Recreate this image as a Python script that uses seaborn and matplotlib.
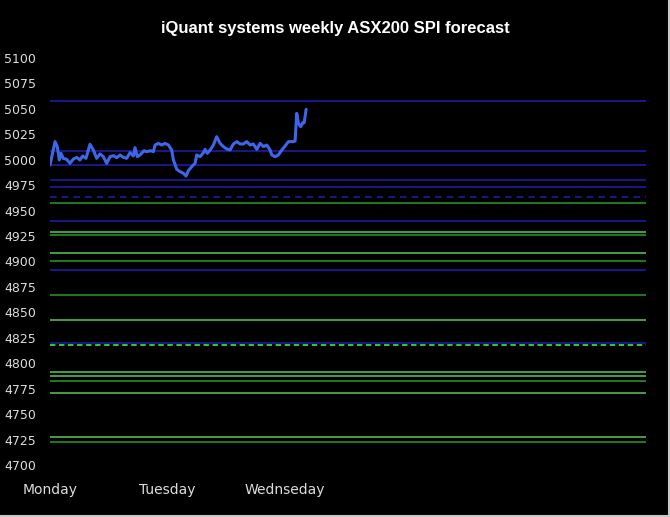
import pandas as pd
import seaborn as sns
import matplotlib.pyplot as plt
from matplotlib.lines import Line2D

# price path, x in trading days from Monday open
day_pos = [0, 0.043, 0.062, 0.079, 0.094, 0.113, 0.142, 0.170, 0.199, 0.227,
           0.255, 0.278, 0.306, 0.340, 0.369, 0.397, 0.426, 0.454, 0.482, 0.511,
           0.539, 0.567, 0.596, 0.624, 0.652, 0.681, 0.709, 0.723, 0.743, 0.766,
           0.800, 0.823, 0.857, 0.879, 0.894, 0.922, 0.950, 0.979, 1.007, 1.035,
           1.050, 1.078, 1.106, 1.135, 1.157, 1.177, 1.206, 1.234, 1.248, 1.277,
           1.305, 1.319, 1.339, 1.362, 1.390, 1.418, 1.447, 1.475, 1.504, 1.532,
           1.560, 1.589, 1.617, 1.645, 1.674, 1.702, 1.730, 1.759, 1.787, 1.816,
           1.844, 1.872, 1.887, 1.915, 1.943, 1.972, 2.000, 2.028, 2.071, 2.085,
           2.099, 2.113, 2.133, 2.150, 2.162, 2.179]
price = [4994.8, 5017.8, 5012.9, 4999.8, 5006.3, 5001.4, 5000.4, 4996.5, 5000.7, 5002.4,
         4999.8, 5003.7, 5001.4, 5015.2, 5009.6, 5001.4, 5005.7, 5003.0, 4996.5, 5003.0,
         5004.0, 5002.0, 5004.7, 5002.4, 5001.4, 5007.0, 5003.7, 5011.9, 5003.0, 5004.7,
         5008.9, 5007.9, 5008.9, 5007.9, 5014.5, 5016.1, 5014.5, 5016.1, 5014.5, 5009.6,
         4999.8, 4990.6, 4988.3, 4986.7, 4984.0, 4989.3, 4993.2, 4996.5, 5004.7, 5003.0,
         5007.0, 5010.2, 5006.3, 5009.6, 5014.5, 5022.7, 5016.1, 5012.9, 5010.6, 5009.6,
         5015.5, 5017.8, 5015.5, 5015.5, 5017.8, 5014.5, 5015.5, 5010.2, 5016.1, 5012.9,
         5014.5, 5009.6, 5004.7, 5003.0, 5004.7, 5009.6, 5013.5, 5017.8, 5017.8, 5018.4,
         5045.6, 5035.8, 5032.5, 5036.4, 5036.4, 5049.6]

# forecast levels
blue_levels = [5058, 5008.6, 4995.1, 4980.1, 4973.2, 4939.8, 4891.4, 4819.6]
blue_dashed_levels = [4963.1]
green_levels = [4957.8, 4926.0, 4900.5, 4867.4, 4782.8, 4722.3]
light_green_levels = [4929.3, 4908.4, 4842.5, 4791.0, 4787.5, 4770.8, 4727.5]
green_dashed_levels = [4818.2]

days = ['Monday', 'Tuesday', 'Wednseday']
y_ticks = list(range(4700, 5101, 25))

df = pd.DataFrame({'day': day_pos, 'price': price})

sns.set_style('dark', {'axes.facecolor': 'black', 'figure.facecolor': 'black'})
plt.rcParams['font.family'] = ['DejaVu Sans']

fig = plt.figure(figsize=(6.7, 5.17), dpi=100)
ax = fig.add_axes([50 / 670, 1 - 465 / 517, 596 / 670, 407 / 517])

for lv in blue_levels:
    ax.axhline(lv, color='#1c1ca6', lw=1.2, zorder=1)
for lv in blue_dashed_levels:
    ax.axhline(lv, color='#1c1ca6', lw=1.2, ls=(0, (4, 3)), zorder=1)
for lv in green_levels:
    ax.axhline(lv, color='#238f23', lw=1.2, zorder=2)
for lv in light_green_levels:
    ax.axhline(lv, color='#52b852', lw=1.2, zorder=2)
for lv in green_dashed_levels:
    ax.axhline(lv, color='#2fe02f', lw=1.3, ls=(0, (3, 2)), zorder=3)

sns.lineplot(data=df, x='day', y='price', color='#3d66e8', lw=2.2, ax=ax, zorder=4)

ax.set_xlim(0, 5.07)
ax.set_ylim(4700, 5100)
ax.set_xticks(range(len(days)))
ax.set_xticklabels(days)
ax.set_yticks(y_ticks)
ax.set_xlabel('')
ax.set_ylabel('')
ax.grid(False)
for s in ax.spines.values():
    s.set_visible(False)
ax.tick_params(axis='y', length=0, pad=10, labelsize=9, labelcolor='#dcdcdc')
ax.tick_params(axis='x', length=0, pad=13, labelsize=10, labelcolor='#dcdcdc')

fig.text(0.5, 1 - 29 / 517, 'iQuant systems weekly ASX200 SPI forecast',
         ha='center', va='center', color='white', fontsize=12,
         fontweight='bold', family=['Liberation Sans', 'DejaVu Sans'])

# thin grey frame at right and bottom edge
fig.add_artist(Line2D([668.5 / 670, 668.5 / 670], [0, 1], color='#c8c8c8', lw=1.5))
fig.add_artist(Line2D([0, 1], [1.5 / 517, 1.5 / 517], color='#c8c8c8', lw=1.5))

fig.savefig('out.png', dpi=100, facecolor='black')
plt.close(fig)
